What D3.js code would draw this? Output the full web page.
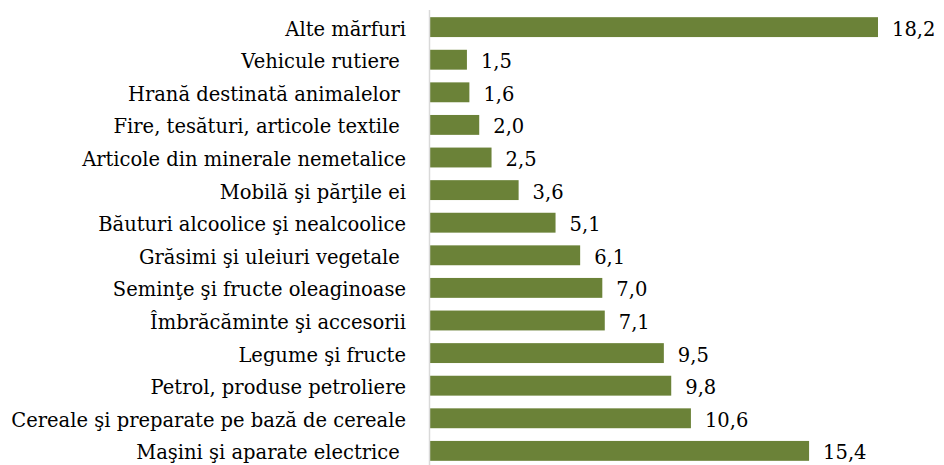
<!DOCTYPE html>
<html>
<head>
<meta charset="utf-8">
<script src="https://cdn.jsdelivr.net/npm/d3@7"></script>
<style>
  body { margin: 0; background: #fff; }
</style>
</head>
<body>
<div id="wrapper"></div>
<script>
// categories top to bottom, as in the chart
const categories = [
    "Alte mărfuri",
    "Vehicule rutiere ",
    "Hrană destinată animalelor ",
    "Fire, tesături, articole textile ",
    "Articole din minerale nemetalice",
    "Mobilă şi părţile ei",
    "Băuturi alcoolice şi nealcoolice",
    "Grăsimi şi uleiuri vegetale ",
    "Seminţe şi fructe oleaginoase",
    "Îmbrăcăminte şi accesorii",
    "Legume şi fructe",
    "Petrol, produse petroliere",
    "Cereale şi preparate pe bază de cereale",
    "Maşini şi aparate electrice "
];
const values = [18.2, 1.5, 1.6, 2.0, 2.5, 3.6, 5.1, 6.1, 7.0, 7.1, 9.5, 9.8, 10.6, 15.4];

const data = categories.map((c, i) => ({ name: c, value: values[i] }));

const dimension = { width: 944, height: 465 };
const fontFamily = "'DejaVu Serif', 'Liberation Serif', serif";

const svg = d3.select("#wrapper").append("svg")
    .attr("width", dimension.width)
    .attr("height", dimension.height);

const xScale = d3.scaleLinear()
    .domain([0, 18.2])
    .range([430, 878]);

const yScale = d3.scaleBand()
    .domain(categories)
    .range([7.4, 470.6])
    .paddingInner(0.39)
    .paddingOuter(0.3);

const fmt = d => d3.format(".1f")(d).replace(".", ",");

svg.selectAll("rect.bar")
    .data(data)
    .join("rect")
    .attr("class", "bar")
    .attr("x", xScale(0))
    .attr("y", d => yScale(d.name))
    .attr("width", d => xScale(d.value) - xScale(0))
    .attr("height", yScale.bandwidth())
    .attr("fill", "#6b8238");

// vertical axis line
svg.append("line")
    .attr("x1", xScale(0) - 0.5).attr("x2", xScale(0) - 0.5)
    .attr("y1", 10).attr("y2", dimension.height)
    .attr("stroke", "#d9d9d9")
    .attr("stroke-width", 1.5);

// category labels
svg.selectAll("text.cat")
    .data(data)
    .join("text")
    .attr("class", "cat")
    .attr("x", 406)
    .attr("y", d => yScale(d.name) + yScale.bandwidth() / 2 + 8.5)
    .attr("text-anchor", "end")
    .attr("font-family", fontFamily)
    .attr("font-size", 19.5)
    .style("white-space", "pre")
    .text(d => d.name);

// value labels
svg.selectAll("text.val")
    .data(data)
    .join("text")
    .attr("class", "val")
    .attr("x", d => xScale(d.value) + 14)
    .attr("y", d => yScale(d.name) + yScale.bandwidth() / 2 + 8.5)
    .attr("font-family", fontFamily)
    .attr("font-size", 19.5)
    .text(d => fmt(d.value));
</script>
</body>
</html>
